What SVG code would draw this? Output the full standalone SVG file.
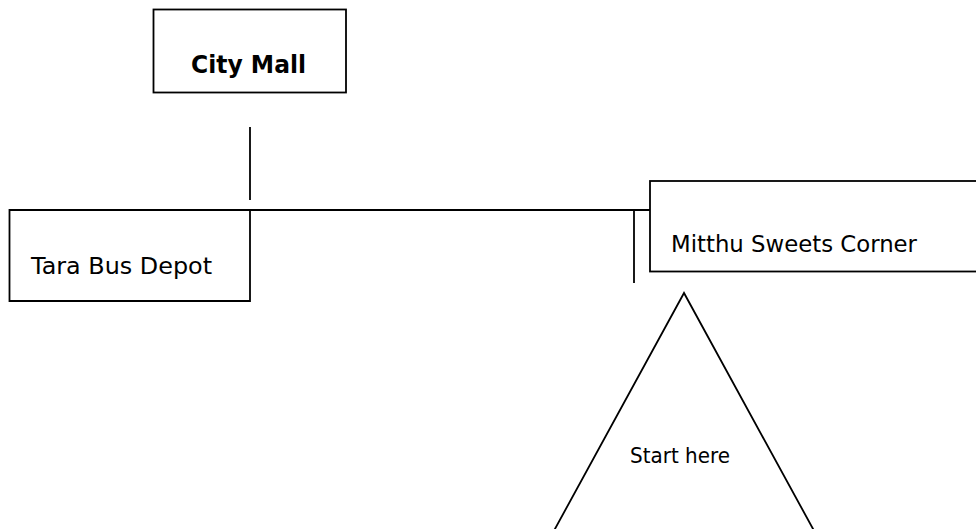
<svg xmlns="http://www.w3.org/2000/svg" width="976" height="529" viewBox="0 0 976 529">
<style>
.box{fill:#fff;stroke:#000;stroke-width:1.8}
.ln{stroke:#000;stroke-width:1.8;fill:none}
.t{font-family:"DejaVu Sans",Verdana,sans-serif;fill:#000}
</style>
<rect width="976" height="529" fill="#fff"/>
<g id="connectors">
<line class="ln" x1="250" y1="127" x2="250" y2="200"/>
<line class="ln" x1="233" y1="210" x2="650" y2="210"/>
<line class="ln" x1="634" y1="210" x2="634" y2="283"/>
</g>
<g id="city-mall">
<rect class="box" x="153.5" y="9.5" width="192.5" height="83"/>
<text class="t" x="191" y="72.5" font-size="24" font-weight="bold" textLength="115" lengthAdjust="spacingAndGlyphs">City Mall</text>
</g>
<g id="tara-bus-depot">
<path class="ln" d="M233,210 H9.5 V301 H250 V210"/>
<text class="t" x="31" y="273.5" font-size="23.6" textLength="181" lengthAdjust="spacingAndGlyphs">Tara Bus Depot</text>
</g>
<g id="mitthu-sweets-corner">
<rect class="box" x="650" y="181" width="340" height="90.5"/>
<text class="t" x="671" y="251.5" font-size="23" textLength="246" lengthAdjust="spacingAndGlyphs">Mitthu Sweets Corner</text>
</g>
<g id="start-here">
<polygon class="box" points="684,293 550,538 818,538"/>
<text class="t" x="630" y="463" font-size="20.5" textLength="100" lengthAdjust="spacingAndGlyphs">Start here</text>
</g>
</svg>
